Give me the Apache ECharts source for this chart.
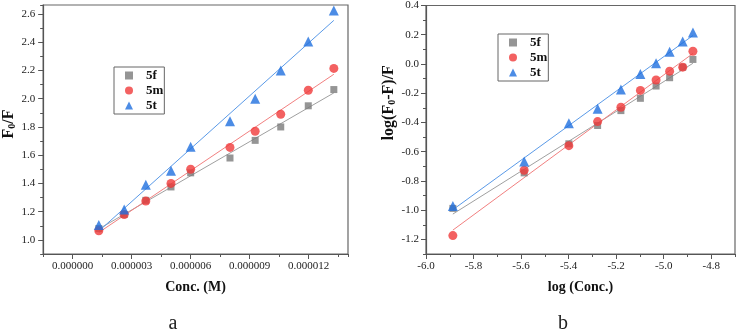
<!DOCTYPE html>
<html>
<head>
<meta charset="utf-8">
<script src="https://cdn.jsdelivr.net/npm/echarts@6/dist/echarts.min.js"></script>
<style>
  html, body { margin: 0; padding: 0; background: #fff; }
  #chart { width: 738px; height: 332px; }
</style>
</head>
<body>
<div id="chart"></div>
<script>
// panel a: F0/F vs concentration
const concM = [1.33e-6, 2.62e-6, 3.72e-6, 5.0e-6, 6.0e-6, 8.0e-6, 9.28e-6, 10.58e-6, 11.98e-6, 13.28e-6];
const ratio5f = [1.08, 1.18, 1.28, 1.375, 1.475, 1.58, 1.705, 1.80, 1.95, 2.065];
const ratio5m = [1.065, 1.18, 1.275, 1.40, 1.50, 1.655, 1.77, 1.89, 2.06, 2.215];
const ratio5t = [1.105, 1.215, 1.39, 1.49, 1.66, 1.84, 2.0, 2.2, 2.405, 2.625];

// panel b: log((F0-F)/F) vs log(conc)
const logConc = [-5.887, -5.587, -5.399, -5.278, -5.18, -5.098, -5.032, -4.975, -4.92, -4.877];
const log5f = [-0.988, -0.745, -0.546, -0.421, -0.319, -0.235, -0.151, -0.094, -0.022, 0.031];
const log5m = [-1.174, -0.727, -0.559, -0.394, -0.296, -0.181, -0.110, -0.049, -0.022, 0.087];
const log5t = [-0.972, -0.668, -0.405, -0.307, -0.174, -0.069, 0.005, 0.083, 0.153, 0.216];

const concTicks = [0, 3e-6, 6e-6, 9e-6, 12e-6];
const ratioTicks = [1.0, 1.2, 1.4, 1.6, 1.8, 2.0, 2.2, 2.4, 2.6];
const logConcTicks = [-6.0, -5.8, -5.6, -5.4, -5.2, -5.0, -4.8];
const logTicks = [-1.2, -1.0, -0.8, -0.6, -0.4, -0.2, 0.0, 0.2, 0.4];

const names = ['5f', '5m', '5t'];
const colors = ['#7b7b7b', '#f03a3a', '#1f6fde'];
const fitColors = ['#a0a0a0', '#f28080', '#5a9ae8'];
const symbols = ['rect', 'circle', 'triangle'];
const sizes = [7, 9, 10];

const serif = '"Liberation Serif", "Times New Roman", serif';

function zip(xs, ys) { return xs.map((x, i) => [x, ys[i]]); }

// least squares line, drawn over the data range
function fitLine(xs, ys) {
  const n = xs.length;
  let sx = 0, sy = 0, sxx = 0, sxy = 0;
  for (let i = 0; i < n; i++) { sx += xs[i]; sy += ys[i]; sxx += xs[i] * xs[i]; sxy += xs[i] * ys[i]; }
  const b = (n * sxy - sx * sy) / (n * sxx - sx * sx);
  const a = (sy - b * sx) / n;
  return [[xs[0], a + b * xs[0]], [xs[n - 1], a + b * xs[n - 1]]];
}

function evenTenth(v, digits) {
  const k = Math.round(v * 10);
  if (Math.abs(v * 10 - k) > 0.01 || k % 2 !== 0) return '';
  return (k / 10).toFixed(digits);
}

const axisLine = { show: true, onZero: false, lineStyle: { color: '#555', width: 1.2 } };
const labelStyle = { fontFamily: serif, fontSize: 11, color: '#222' };
const nameStyle = { fontFamily: serif, fontSize: 14, fontWeight: 'bold', color: '#111' };
const richName = {
  t: { fontFamily: serif, fontSize: 16, fontWeight: 'bold', color: '#111', verticalAlign: 'middle' },
  s: { fontFamily: serif, fontSize: 10, fontWeight: 'bold', color: '#111', verticalAlign: 'middle', padding: [7, 0, 0, 0] }
};

function mainAxis(extra) {
  return Object.assign({
    type: 'value',
    axisLine: axisLine,
    axisTick: { show: true, inside: false, length: 3, lineStyle: { color: '#555' } },
    splitLine: { show: false }
  }, extra);
}
function majorAxis(extra, ticks) {
  return Object.assign({
    type: 'value',
    axisLine: { show: false, onZero: false },
    axisLabel: { show: false },
    splitLine: { show: false },
    axisTick: { show: true, inside: false, length: 5, customValues: ticks, lineStyle: { color: '#555' } }
  }, extra);
}

const series = [];
const panelA = [ratio5f, ratio5m, ratio5t];
const panelB = [log5f, log5m, log5t];
for (let i = 0; i < 3; i++) {
  series.push({ name: names[i] + ' fit a', type: 'line', xAxisIndex: 0, yAxisIndex: 0, data: fitLine(concM, panelA[i]),
    symbol: 'none', silent: true, z: 1, lineStyle: { color: fitColors[i], width: 1 } });
  series.push({ name: names[i] + ' fit b', type: 'line', xAxisIndex: 2, yAxisIndex: 2, data: fitLine(logConc, panelB[i]),
    symbol: 'none', silent: true, z: 1, lineStyle: { color: fitColors[i], width: 1 } });
}
for (let i = 0; i < 3; i++) {
  series.push({ name: names[i], type: 'scatter', xAxisIndex: 0, yAxisIndex: 0, data: zip(concM, panelA[i]),
    symbol: symbols[i], symbolSize: sizes[i], z: 3, itemStyle: { color: colors[i] } });
  series.push({ name: names[i], type: 'scatter', xAxisIndex: 2, yAxisIndex: 2, data: zip(logConc, panelB[i]),
    symbol: symbols[i], symbolSize: sizes[i], z: 3, itemStyle: { color: colors[i] } });
}

function legendAt(left, top) {
  return {
    left: left, top: top, orient: 'vertical',
    data: names.map((n, i) => ({ name: n, icon: symbols[i], itemStyle: { color: colors[i] } })),
    itemWidth: 8, itemHeight: 8, itemGap: 0,
    padding: [1, 1, 1, 11],
    borderColor: '#666', borderWidth: 1,
    textStyle: { fontFamily: serif, fontSize: 13, fontWeight: 'bold', color: '#111', lineHeight: 15, padding: [0, 0, 0, 8] }
  };
}

const chart = echarts.init(document.getElementById('chart'), null, { renderer: 'canvas' });
chart.setOption({
  animation: false,
  backgroundColor: '#fff',
  grid: [
    { left: 39, top: 5, width: 309, height: 249, show: true, borderColor: '#666', borderWidth: 1.2, backgroundColor: 'transparent' },
    { left: 426, top: 5, width: 311, height: 249, show: true, borderColor: '#666', borderWidth: 1.2, backgroundColor: 'transparent' }
  ],
  xAxis: [
    mainAxis({ gridIndex: 0, min: -1.5e-6, max: 14e-6, interval: 1.5e-6,
      name: 'Conc. (M)', nameLocation: 'middle', nameGap: 26, nameTextStyle: nameStyle,
      axisLabel: Object.assign({ margin: 7, formatter: v => {
        const k = Math.round(v / 1.5e-6);
        if (k < 0 || k % 2 !== 0 || Math.abs(v - k * 1.5e-6) > 1e-9) return '';
        return (k * 1.5e-6).toFixed(6);
      } }, labelStyle) }),
    majorAxis({ gridIndex: 0, min: -1.5e-6, max: 14e-6, position: 'bottom' }, concTicks),
    mainAxis({ gridIndex: 1, min: -6.0, max: -4.7, interval: 0.1,
      name: 'log (Conc.)', nameLocation: 'middle', nameGap: 26, nameTextStyle: nameStyle,
      axisLabel: Object.assign({ margin: 7, formatter: v => evenTenth(v, 1) }, labelStyle) }),
    majorAxis({ gridIndex: 1, min: -6.0, max: -4.7, position: 'bottom' }, logConcTicks)
  ],
  yAxis: [
    mainAxis({ gridIndex: 0, min: 0.9, max: 2.664, interval: 0.1,
      name: '{t|F}{s|0}{t|/F}', nameLocation: 'middle', nameGap: 21, nameRotate: 90,
      nameTextStyle: { rich: richName, padding: [0, 0, 0, 11] },
      axisLabel: Object.assign({ margin: 8, formatter: v => evenTenth(v, 1) }, labelStyle) }),
    majorAxis({ gridIndex: 0, min: 0.9, max: 2.664, position: 'left' }, ratioTicks),
    mainAxis({ gridIndex: 1, min: -1.3, max: 0.4, interval: 0.1,
      name: '{t|log(F}{s|0}{t|-F)/F}', nameLocation: 'middle', nameGap: 27, nameRotate: 90,
      nameTextStyle: { rich: richName, padding: [0, 0, 0, 54] },
      axisLabel: Object.assign({ margin: 7, formatter: v => evenTenth(v, 1) }, labelStyle) }),
    majorAxis({ gridIndex: 1, min: -1.3, max: 0.4, position: 'left' }, logTicks)
  ],
  legend: [legendAt(114, 67), legendAt(498, 34)],
  graphic: [
    { type: 'text', x: 173, y: 324, style: { text: 'a', font: '20px ' + serif, fill: '#222', align: 'center', verticalAlign: 'middle' } },
    { type: 'text', x: 563, y: 324, style: { text: 'b', font: '20px ' + serif, fill: '#222', align: 'center', verticalAlign: 'middle' } }
  ],
  series: series
});
</script>
</body>
</html>
